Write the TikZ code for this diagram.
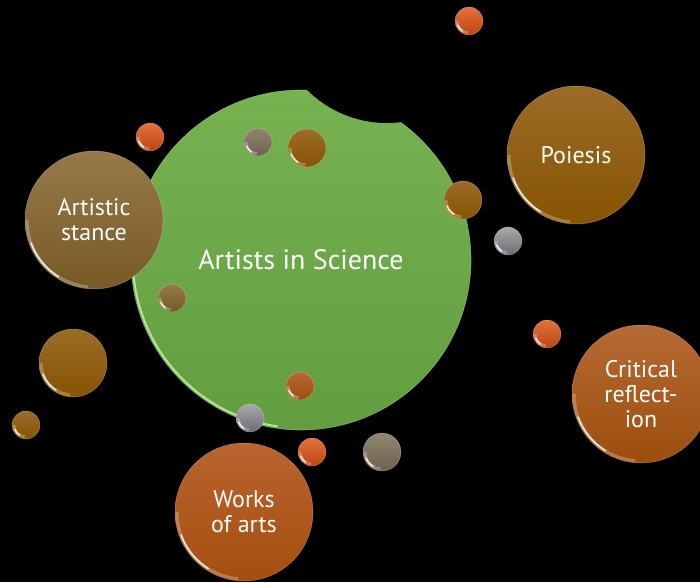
\documentclass[tikz,border=0pt]{standalone}
\usepackage{fontspec}
\setmainfont{PT Sans}

\definecolor{leafT}{RGB}{118,178,80}
\definecolor{leafB}{RGB}{98,158,64}
\definecolor{leafRim}{RGB}{190,235,160}
\definecolor{stanceT}{RGB}{150,122,74}
\definecolor{stanceB}{RGB}{120,90,38}
\definecolor{amberT}{RGB}{156,108,40}
\definecolor{amberB}{RGB}{135,84,2}
\definecolor{rustT}{RGB}{182,106,52}
\definecolor{rustB}{RGB}{156,78,12}
\definecolor{copperT}{RGB}{186,100,48}
\definecolor{copperB}{RGB}{164,78,14}
\definecolor{emberT}{RGB}{228,112,60}
\definecolor{emberB}{RGB}{188,70,18}
\definecolor{silverT}{RGB}{168,168,172}
\definecolor{silverB}{RGB}{108,108,114}
\definecolor{taupeT}{RGB}{146,134,112}
\definecolor{taupeB}{RGB}{108,98,78}

\begin{document}
\begin{tikzpicture}[
    x=1pt, y=-1pt,
    ball/.style={circle, inner sep=0pt, minimum size=2*#1,
        draw=white, draw opacity=0.3, line width=0.5pt,
        path picture={
            \draw[white, line width=3pt, opacity=0.25]
                (path picture bounding box.center) ++(180:#1-2pt)
                arc[start angle=180, end angle=265, radius=#1-2pt];
            \draw[white, line width=1.4pt, opacity=0.9, line cap=round]
                (path picture bounding box.center) ++(200:#1-2pt)
                arc[start angle=200, end angle=238, radius=#1-2pt];
        }},
    stance/.style={top color=stanceT, bottom color=stanceB},
    amber/.style={top color=amberT, bottom color=amberB},
    rust/.style={top color=rustT, bottom color=rustB},
    copper/.style={top color=copperT, bottom color=copperB},
    ember/.style={top color=emberT, bottom color=emberB},
    silver/.style={top color=silverT, bottom color=silverB},
    taupe/.style={top color=taupeT, bottom color=taupeB},
    bubbletext/.style={text=white, align=center, font=\fontsize{24}{25}\selectfont}
]
    % Background
    \fill[black] (0,0) rectangle (700,582);
    \useasboundingbox (0,0) rectangle (700,582);
    \clip (0,0) rectangle (700,582);

    % Main circle
    \node[circle, inner sep=0pt, minimum size=340pt, top color=leafT, bottom color=leafB,
          draw=leafRim, draw opacity=0.5, line width=0.6pt,
          text=white, font=\fontsize{28}{30}\selectfont,
          path picture={
            \draw[leafRim, line width=2pt, opacity=0.9]
                (path picture bounding box.center) ++(175:168pt)
                arc[start angle=175, end angle=262, radius=168pt];
          }] (main) at (301,260) {Artists in Science};
    % Bite
    \fill[black] (387,10) circle[radius=113pt];

    % Big bubbles
    \node[ball=69pt, stance, bubbletext] (stance) at (94,220) {Artistic\\stance};
    \node[ball=69pt, amber, bubbletext] (poiesis) at (576,155) {Poiesis};
    \node[ball=69pt, rust, bubbletext] (critic) at (641,394) {Critical\\reflect-\\ion};
    \node[ball=69pt, copper, bubbletext] (works) at (244,512) {Works\\of arts};

    % Small bubbles
    \node[ball=14pt, ember] (ember1) at (469,21) {};
    \node[ball=14pt, ember] (ember2) at (150,137) {};
    \node[ball=14pt, taupe] (taupe1) at (258,142) {};
    \node[ball=19pt, amber] (amber1) at (307,148) {};
    \node[ball=19pt, amber] (amber2) at (463,200) {};
    \node[ball=14pt, silver] (silver1) at (508,241) {};
    \node[ball=14pt, stance] (taupe2) at (172,298) {};
    \node[ball=34pt, amber] (amber3) at (73,363) {};
    \node[ball=14pt, amber] (amber4) at (26,425) {};
    \node[ball=14pt, ember] (ember3) at (547,334) {};
    \node[ball=14pt, rust] (rust1) at (300,386) {};
    \node[ball=14pt, silver] (silver2) at (250,418) {};
    \node[ball=14pt, ember] (ember4) at (312,452) {};
    \node[ball=19pt, taupe] (taupe3) at (382,452) {};
\end{tikzpicture}
\end{document}
